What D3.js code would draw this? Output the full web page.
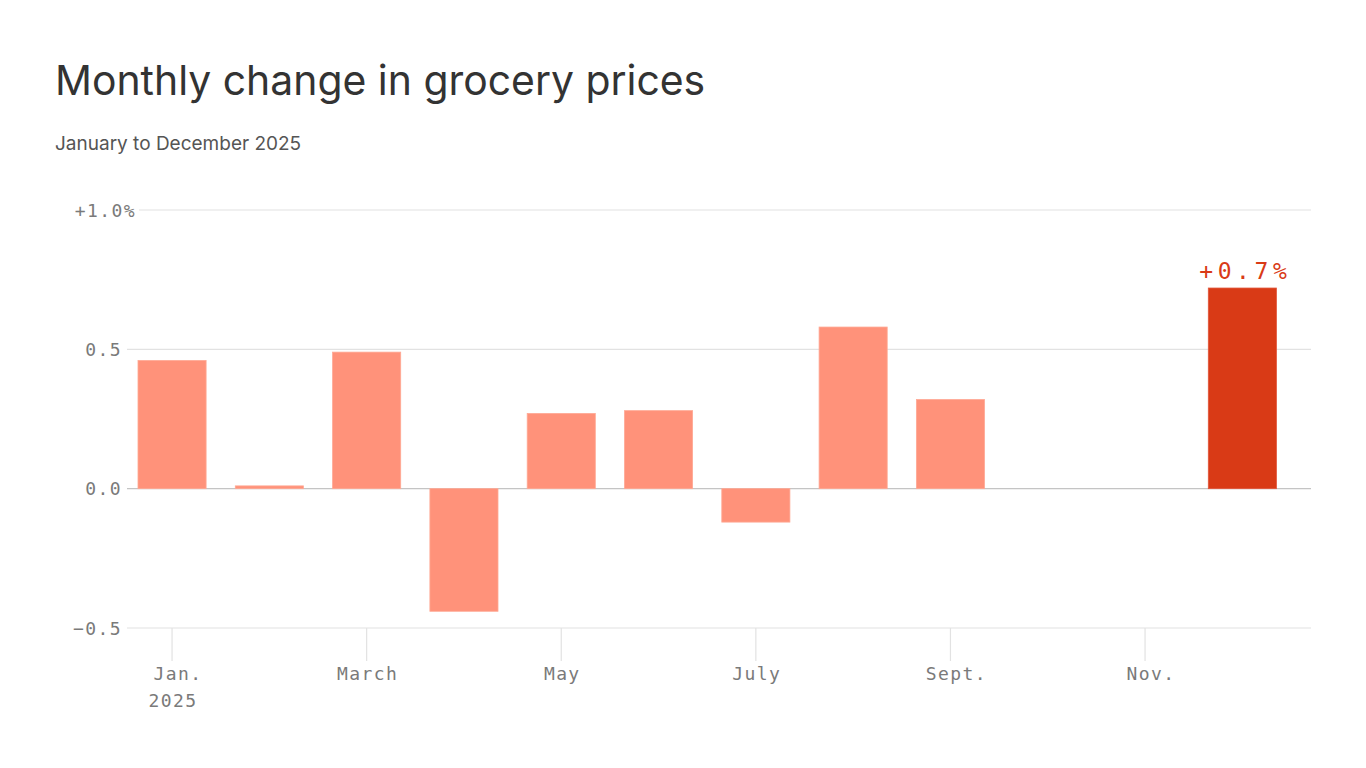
<!DOCTYPE html>
<html>
<head>
<meta charset="utf-8">
<script src="https://cdn.jsdelivr.net/npm/d3@7"></script>
<style>
  body { margin: 0; background: #fff; }
  .title { font-family: Inter, "Noto Sans", sans-serif; font-size: 40.9px; fill: #333; }
  .subtitle { font-family: Inter, "Noto Sans", sans-serif; font-size: 19px; fill: #555; }
  .tick-label { font-family: "DejaVu Sans Mono", monospace; font-size: 18px; fill: #7a7a7a; letter-spacing: 1.4px; }
  .value-label { font-family: "DejaVu Sans Mono", monospace; font-size: 23px; fill: #d93a16; letter-spacing: 4.6px; }
</style>
</head>
<body>
<script>
(function (){

    //chart data
    var months = ["Jan", "Feb", "Mar", "Apr", "May", "Jun", "Jul", "Aug", "Sep", "Oct", "Nov", "Dec"];
    var changes = [0.46, 0.01, 0.49, -0.44, 0.27, 0.28, -0.12, 0.58, 0.32, null, null, 0.72];
    var tickMonths = ["Jan", "Mar", "May", "Jul", "Sep", "Nov"];
    var tickLabels = [["Jan.", "2025"], ["March"], ["May"], ["July"], ["Sept."], ["Nov."]];
    var yTicks = [-0.5, 0, 0.5, 1.0];
    var highlight = "Dec";

    var width = 1366, height = 768;

    var svg = d3.select("body")
        .append("svg")
        .attr("width", width)
        .attr("height", height);

    svg.append("text")
        .attr("class", "title")
        .attr("x", 55)
        .attr("y", 95)
        .text("Monthly change in grocery prices");

    svg.append("text")
        .attr("class", "subtitle")
        .attr("x", 55)
        .attr("y", 150)
        .text("January to December 2025");

    //scales
    var x = d3.scaleBand()
        .domain(months)
        .range([123.4, 1291])
        .paddingInner(0.3)
        .paddingOuter(0.15);

    var y = d3.scaleLinear()
        .domain([-0.5, 1.0])
        .range([628, 210]);

    function mid(m){ return x(m) + x.bandwidth() / 2; }

    //grid lines
    svg.selectAll(".grid")
        .data(yTicks)
        .enter()
        .append("line")
        .attr("x1", function(d){ return d === 1.0 ? 139 : 127; })
        .attr("x2", 1311)
        .attr("y1", function(d){ return y(d); })
        .attr("y2", function(d){ return y(d); })
        .style("stroke", function(d){ return d === 0 ? "#c4c4c4" : "#e2e2e2"; })
        .style("stroke-width", 1.2);

    //y labels
    svg.selectAll(".ylab")
        .data(yTicks)
        .enter()
        .append("text")
        .attr("class", "tick-label")
        .attr("x", function(d){ return d === 1.0 ? 136 : 122; })
        .attr("y", function(d){ return y(d) + 6.5; })
        .attr("text-anchor", "end")
        .text(function(d){
            if (d === 1.0) return "+1.0%";
            return d3.format(".1f")(d).replace("-", "\u2212");
        });

    //x ticks
    svg.selectAll(".xtick")
        .data(tickMonths)
        .enter()
        .append("line")
        .attr("x1", mid)
        .attr("x2", mid)
        .attr("y1", y(-0.5))
        .attr("y2", 661)
        .style("stroke", "#e2e2e2")
        .style("stroke-width", 1.2);

    var xl = svg.selectAll(".xlab")
        .data(tickMonths)
        .enter()
        .append("text")
        .attr("class", "tick-label")
        .attr("text-anchor", "middle")
        .attr("y", 680);

    //abbreviated names sit a little right, as if centred without the dot
    xl.selectAll("tspan")
        .data(function(d, i){ return tickLabels[i].map(function(t){ return {m: d, t: t}; }); })
        .enter()
        .append("tspan")
        .attr("x", function(d){ return mid(d.m) + (/\.$/.test(d.t) ? 6 : 1); })
        .attr("dy", function(d, i){ return i === 0 ? 0 : 27; })
        .text(function(d){ return d.t; });

    //bars
    var barData = months.map(function(m, i){ return {month: m, value: changes[i]}; })
        .filter(function(d){ return d.value !== null; });

    svg.selectAll(".bar")
        .data(barData)
        .enter()
        .append("rect")
        .attr("x", function(d){ return x(d.month); })
        .attr("width", x.bandwidth())
        .attr("y", function(d){ return Math.min(y(d.value), y(0)); })
        .attr("height", function(d){ return Math.abs(y(d.value) - y(0)); })
        .style("fill", function(d){ return d.month === highlight ? "#d93a16" : "#ff927a"; })
        .style("stroke", function(d){ return d.month === highlight ? "#e2553a" : "#ffa994"; })
        .style("stroke-width", 0.8);

    //highlight label
    var last = barData.filter(function(d){ return d.month === highlight; })[0];
    svg.append("text")
        .attr("class", "value-label")
        .attr("x", mid(last.month) + 3)
        .attr("y", y(last.value) - 9)
        .attr("text-anchor", "middle")
        .text("+" + d3.format(".1f")(last.value) + "%");

})();
</script>
</body>
</html>
